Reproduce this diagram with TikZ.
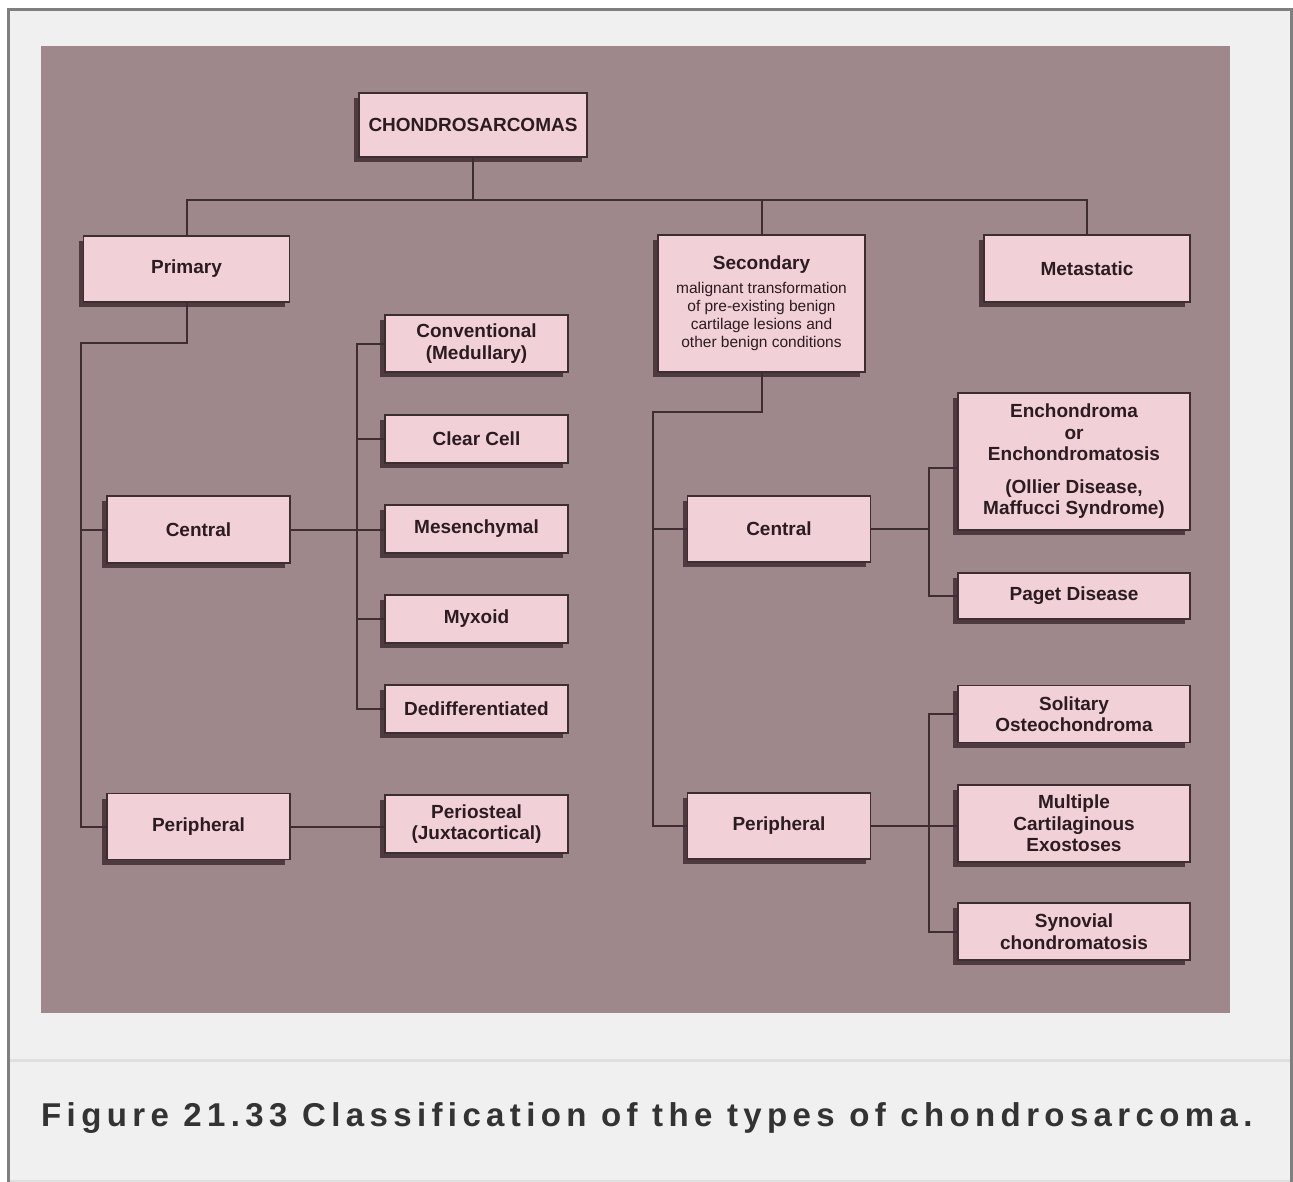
\documentclass[tikz,border=0pt]{standalone}
\usepackage{fontspec}
\setmainfont{Liberation Sans}
\newfontfamily\capfont[LetterSpace=16.3]{Liberation Sans}
\usetikzlibrary{shadows}

\definecolor{panel}{HTML}{9E888B}
\definecolor{boxpink}{HTML}{F2D0D7}
\definecolor{boxline}{HTML}{3E2D31}
\definecolor{shade}{HTML}{4D3B3F}
\definecolor{ink}{HTML}{2A1C20}
\definecolor{pagegray}{HTML}{F0F0F0}
\definecolor{framegray}{HTML}{7F7F7F}
\definecolor{rulegray}{HTML}{DFDFDF}
\definecolor{captionink}{HTML}{333333}

\begin{document}
\begin{tikzpicture}[
    x=1pt, y=-1pt,
    % Boxes with a solid shadow down and to the left
    cbox/.style={rectangle, draw=boxline, line width=1.3pt, fill=boxpink, text=ink, align=center,
        font=\fontsize{19}{21.5}\selectfont\bfseries, inner sep=0pt,
        drop shadow={shadow xshift=-5pt, shadow yshift=-5pt, fill=shade, opacity=1}},
    main/.style={cbox, minimum width=206pt, minimum height=66pt},
    mid/.style={cbox, minimum width=183pt, minimum height=66pt},
    sub/.style={cbox, minimum width=183pt, minimum height=48pt},
    leaf/.style={cbox, minimum width=232pt, minimum height=57pt},
    link/.style={draw=boxline, line width=2pt}
]
\useasboundingbox (0,0) rectangle (1293,1182);

% Page frame and caption strip
\fill[white] (0,0) rectangle (1293,1182);
\fill[pagegray] (8,10) rectangle (1291,1182);
\draw[framegray, line width=3pt] (8,1182) -- (8,10) -- (1291,10) -- (1291,1182);
\draw[rulegray, line width=3pt] (10,1060) -- (1290,1060);
\draw[rulegray, line width=2pt] (10,1181) -- (1290,1181);

% Mauve panel
\fill[panel] (41,46) rectangle (1230,1013);

% Root
\node[cbox, minimum width=228pt, minimum height=64pt] (root) at (473,125) {CHONDROSARCOMAS};

% First level
\node[main] (primary) at (186.5,269) {Primary};
\node[main, minimum width=207pt, minimum height=137pt, font=\fontsize{15.5}{18}\selectfont\mdseries] (secondary) at (761.5,303.5)
    {{\fontsize{19}{21.5}\selectfont\bfseries Secondary}\\[6pt]
    malignant transformation\\of pre-existing benign\\cartilage lesions and\\other benign conditions};
\node[main, minimum height=67pt] (metastatic) at (1087,268.5) {Metastatic};

% Primary branch
\node[mid, minimum height=67pt] (centralL) at (198.5,529.5) {Central};
\node[mid] (periL) at (198.5,826.5) {Peripheral};

\node[sub, minimum height=57pt] (conv) at (476.5,343.5) {Conventional\\(Medullary)};
\node[sub] (clear) at (476.5,439) {Clear Cell};
\node[sub] (mesen) at (476.5,529) {Mesenchymal};
\node[sub] (myxoid) at (476.5,619) {Myxoid};
\node[sub] (dediff) at (476.5,709) {Dedifferentiated};
\node[sub, minimum height=58pt] (perio) at (476.5,824) {Periosteal\\(Juxtacortical)};

% Secondary branch
\node[mid] (centralR) at (779,529) {Central};
\node[mid] (periR) at (779,826) {Peripheral};

\node[leaf, minimum height=137pt] (ench) at (1074,461.5) {Enchondroma\\or\\Enchondromatosis\\[11pt](Ollier Disease,\\Maffucci Syndrome)};
\node[leaf, minimum height=46pt] (paget) at (1074,596) {Paget Disease};
\node[leaf] (solitary) at (1074,714) {Solitary\\Osteochondroma};
\node[leaf, minimum height=77pt] (multiple) at (1074,823.5) {Multiple\\Cartilaginous\\Exostoses};
\node[leaf] (synovial) at (1074,931.5) {Synovial\\chondromatosis};

% Top bus
\coordinate (bus) at (0,200);
\draw[link] (root.south) -- (root.south |- bus);
\draw[link] (primary.north) |- (bus -| metastatic.north) -- (metastatic.north);
\draw[link] (secondary.north) -- (secondary.north |- bus);

% Primary tree
\coordinate (lspine) at (81,343);
\draw[link] (primary.south) |- (lspine) -- (lspine |- periL.west) -- (periL.west);
\draw[link] (lspine |- centralL.west) -- (centralL.west);
\coordinate (lsub) at (357,0);
\draw[link] (conv.west) -- (conv.west -| lsub) -- (dediff.west -| lsub) -- (dediff.west);
\foreach \n in {clear,myxoid}
    \draw[link] (\n.west -| lsub) -- (\n.west);
\draw[link] (centralL.east) -- (centralL.east -| mesen.west);
\draw[link] (periL.east) -- (periL.east -| perio.west);

% Secondary tree
\coordinate (rspine) at (653,412);
\draw[link] (secondary.south) |- (rspine) -- (rspine |- periR.west) -- (periR.west);
\draw[link] (rspine |- centralR.west) -- (centralR.west);
\coordinate (rsub) at (929,0);
\coordinate (enchin) at ([yshift=-6pt]ench.west);
\draw[link] (centralR.east) -- (centralR.east -| rsub);
\draw[link] (enchin) -- (enchin -| rsub) -- (paget.west -| rsub) -- (paget.west);
\draw[link] (solitary.west) -- (solitary.west -| rsub) -- (synovial.west -| rsub) -- (synovial.west);
\draw[link] (periR.east) -- (periR.east -| multiple.west);

% Caption
\node[anchor=base west, inner sep=0pt, text=captionink, font=\capfont\fontsize{33}{40}\selectfont\bfseries] (caption) at (41,1126)
    {Figure 21.33 Classification of the types of chondrosarcoma.};

\end{tikzpicture}
\end{document}
